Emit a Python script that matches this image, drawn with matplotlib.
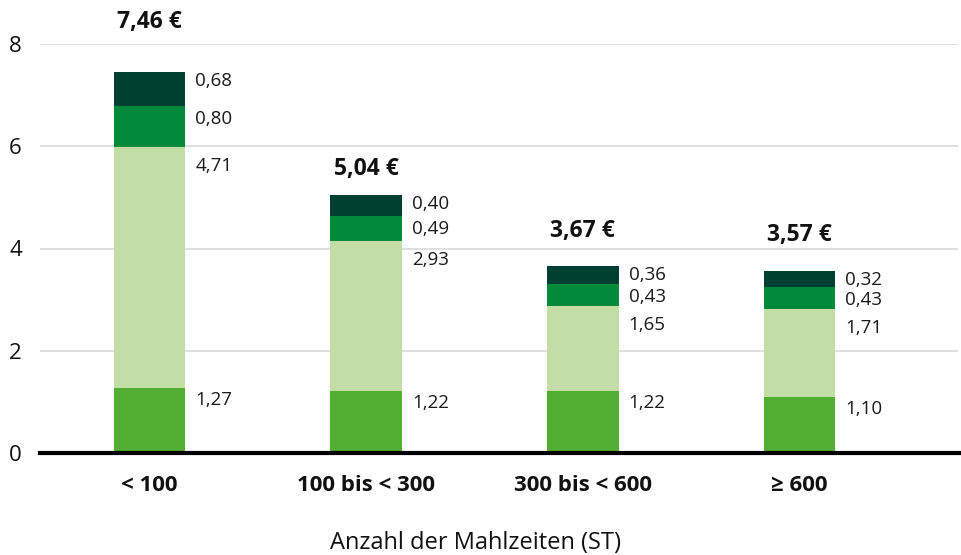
import matplotlib
matplotlib.use("Agg")
import matplotlib.pyplot as plt
import numpy as np

categories = ["< 100", "100 bis < 300", "300 bis < 600", "≥ 600"]
seg1 = [1.27, 1.22, 1.22, 1.10]
seg2 = [4.71, 2.93, 1.65, 1.71]
seg3 = [0.80, 0.49, 0.43, 0.43]
seg4 = [0.68, 0.40, 0.36, 0.32]
totals = [7.46, 5.04, 3.67, 3.57]
total_labels = ["7,46 €", "5,04 €", "3,67 €", "3,57 €"]

colors = ["#52AE32", "#C3DDA7", "#008A3A", "#004030"]
label_dy = [-3, -10, -4, 0]
total_offsets_px = [50, 26, 34, 35]

plt.rcParams['font.family'] = ['Open Sans', 'DejaVu Sans']

fig = plt.figure(figsize=(9.62, 5.55), dpi=100)
W, H = 962, 555
ax = fig.add_axes([40 / W, (H - 453) / H, 918 / W, (453 - 44) / H])

x = np.arange(len(categories))
width = 0.33
bottom = np.zeros(len(categories))
segs = [seg1, seg2, seg3, seg4]
for s, c, dy in zip(segs, colors, label_dy):
    vals = np.array(s)
    ax.bar(x, vals, width, bottom=bottom, color=c, zorder=2)
    for xi, b, v in zip(x, bottom, vals):
        top = b + v
        ax.annotate(f"{v:.2f}".replace(".", ","), xy=(xi + width / 2, top),
                    xytext=(10, dy), textcoords="offset pixels",
                    ha="left", va="top", fontsize=13.5, color="#1a1a1a")
    bottom = bottom + vals

for xi, t, lab, off in zip(x, totals, total_labels, total_offsets_px):
    ax.annotate(lab, xy=(xi, t), xytext=(0, off), textcoords="offset pixels",
                ha="center", va="center", fontsize=16.5, fontweight="bold",
                color="#111111", annotation_clip=False)

ax.set_xlim(-0.505, 3.731)
ax.set_ylim(0, 8)
ax.set_yticks([0, 2, 4, 6, 8])
ax.set_yticklabels(["0", "2", "4", "6", "8"], fontsize=16, color="#111111")
ax.set_xticks(x)
ax.set_xticklabels(categories, fontsize=16, fontweight="bold", color="#111111")
ax.tick_params(axis="both", length=0)
ax.tick_params(axis="y", pad=13)
ax.tick_params(axis="x", pad=16)
ax.grid(axis="y", color="#d9d9d9", linewidth=1.2, zorder=0)
ax.set_axisbelow(True)
for sp in ["top", "right", "left"]:
    ax.spines[sp].set_visible(False)
ax.spines["bottom"].set_linewidth(3)
ax.spines["bottom"].set_color("black")
ax.spines["bottom"].set_zorder(3)
ax.spines["bottom"].set_bounds(-0.505, 3.75)

fig.text(476 / W, 1 - 543 / H, "Anzahl der Mahlzeiten (ST)", ha="center", va="center",
         fontsize=17, color="#111111")

fig.savefig("out.png", dpi=100)
